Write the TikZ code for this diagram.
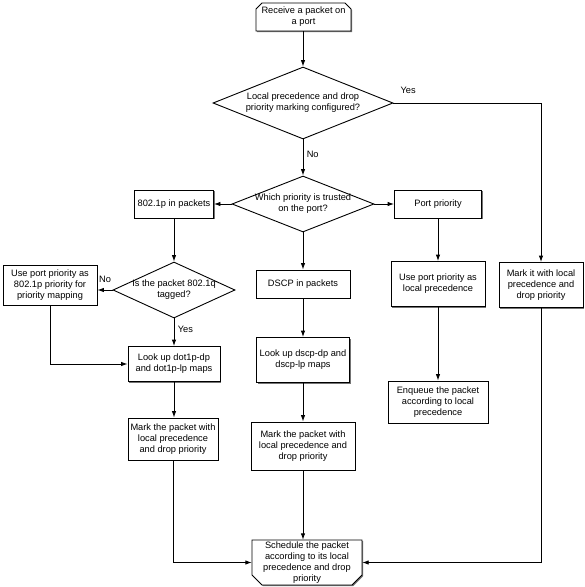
\documentclass[tikz,border=0pt]{standalone}
\usepackage{fontspec}
\setmainfont{Liberation Sans}
\usepackage{tikz}
\usetikzlibrary{decorations,arrows.meta,shapes,shadows}

\begin{document}
\begin{tikzpicture}[
  every node/.style={font=\fontsize{9.3}{11.2}\selectfont,align=center},
  edge/.style={draw,fill=white,line width=0.9bp,
    drop shadow={shadow xshift=1.2bp,shadow yshift=-1.2bp,fill=black!55,opacity=1}},
  box/.style={edge,rectangle,inner sep=1bp},
  term/.style={rectangle,inner sep=0bp},
  test/.style={draw,diamond,fill=white,inner sep=0bp,inner xsep=-14bp,line width=0.9bp},
  flow/.style={-{Latex[length=6.5bp,width=4.5bp]},line width=0.9bp}
]
\useasboundingbox (0bp,0bp) rectangle (585bp,-587bp);

% outlines of the two end shapes
\path [edge] (262bp,-3bp) -- (345bp,-3bp) -- (351bp,-9bp) -- (351bp,-31bp) -- (256bp,-31bp) -- (256bp,-9bp) -- cycle;
\path [edge] (252bp,-540bp) -- (362bp,-540bp) -- (362bp,-575bp) -- (352bp,-585bp) -- (262bp,-585bp) -- (252bp,-575bp) -- cycle;

\node (start) at (303.5bp,-17bp)[term,minimum width=95bp,minimum height=28bp] {Receive a packet on\\a port};
\node (cfg) at (303bp,-103bp)[test,aspect=2.5,minimum width=180bp,minimum height=72bp] {Local precedence and drop\\priority marking configured?};
\node (trust) at (303bp,-204bp)[test,aspect=2.54,minimum width=142bp,minimum height=56bp] {Which priority is trusted\\on the port?};
\node (dotin) at (174bp,-204bp)[box,minimum width=79bp,minimum height=28bp] {802.1p in packets};
\node (portpri) at (438bp,-204bp)[box,minimum width=87bp,minimum height=28bp] {Port priority};
\node (tagged) at (174bp,-290bp)[test,aspect=2.18,minimum width=122bp,minimum height=56bp] {Is the packet 802.1q\\tagged?};
\node (useport) at (50bp,-285bp)[box,minimum width=94bp,minimum height=40bp] {Use port priority as\\802.1p priority for\\priority mapping};
\node (lookdot) at (174bp,-364bp)[box,minimum width=92bp,minimum height=35bp] {Look up dot1p-dp\\and dot1p-lp maps};
\node (markl) at (173bp,-439bp)[box,minimum width=90bp,minimum height=42bp] {Mark the packet with\\local precedence\\and drop priority};
\node (dscp) at (303bp,-284bp)[box,minimum width=94bp,minimum height=28bp] {DSCP in packets};
\node (lookdscp) at (303bp,-360bp)[box,minimum width=93bp,minimum height=45bp] {Look up dscp-dp and\\dscp-lp maps};
\node (markc) at (303bp,-446bp)[box,minimum width=104bp,minimum height=48bp] {Mark the packet with\\local precedence and\\drop priority};
\node (uselocal) at (438bp,-284bp)[box,minimum width=94bp,minimum height=45bp] {Use port priority as\\local precedence};
\node (enqueue) at (438bp,-402bp)[box,minimum width=100bp,minimum height=42bp] {Enqueue the packet\\according to local\\precedence};
\node (markit) at (541bp,-285bp)[box,minimum width=84bp,minimum height=45bp] {Mark it with local\\precedence and\\drop priority};
\node (sched) at (307bp,-562.5bp)[term,minimum width=110bp,minimum height=45bp] {Schedule the packet\\according to its local\\precedence and drop\\priority};

\draw [flow] (start.south -| cfg.north) -- (cfg);
\draw [flow] (cfg) -- node[pos=0.4,right] {No} (trust);
\draw [flow] (cfg.east) -| node[pos=0.05,above=6bp] {Yes} (markit.north);
\draw [flow] (trust.west) -- (dotin.east);
\draw [flow] (trust.east) -- (portpri.west);
\draw [flow] (trust.south) -- (dscp.north);
\draw [flow] (dotin) -- (tagged);
\draw [flow] (tagged.west) -- node[above=4bp] {No} (tagged.west -| useport.east);
\draw [flow] (tagged) -- node[pos=0.38,right] {Yes} (lookdot);
\draw [flow] (useport.south) |- (lookdot.west);
\draw [flow] (lookdot.south) -- (lookdot.south |- markl.north);
\draw [flow] (markl.south) |- (sched.west);
\draw [flow] (dscp) -- (lookdscp);
\draw [flow] (lookdscp) -- (markc);
\draw [flow] (markc) -- (markc |- sched.north);
\draw [flow] (portpri) -- (uselocal);
\draw [flow] (uselocal) -- (enqueue);
\draw [flow] (markit.south) |- (sched.east);
\end{tikzpicture}
\end{document}
